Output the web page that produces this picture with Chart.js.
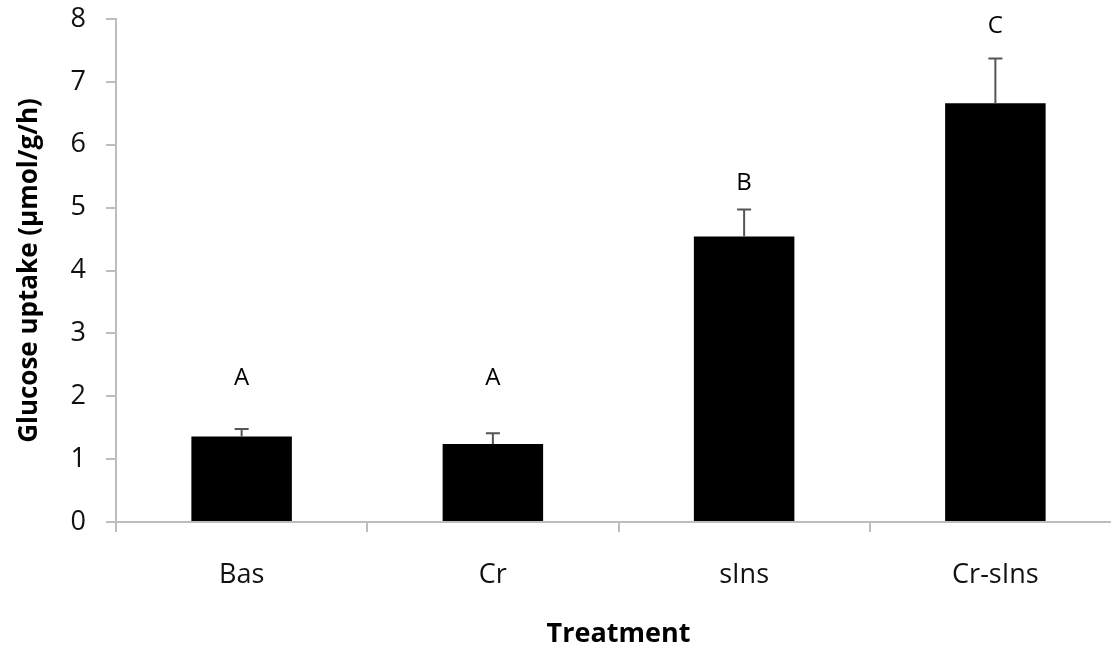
<!DOCTYPE html>
<html>
<head>
<meta charset="utf-8">
<script src="https://cdn.jsdelivr.net/npm/chart.js@4/dist/chart.umd.min.js"></script>
<style>
  html, body { margin: 0; padding: 0; background: #fff; overflow: hidden; }
  #wrap { width: 1121px; height: 656px; }
</style>
</head>
<body>
<div id="wrap"><canvas id="chart"></canvas></div>
<script>
const categories = ['Bas', 'Cr', 'sIns', 'Cr-sIns'];
const uptake = [1.36, 1.24, 4.54, 6.66];
const errorTop = [1.48, 1.41, 4.97, 7.37];
const letters = ['A', 'A', 'B', 'C'];
const letterLevel = [2.28, 2.28, 5.39, 7.88];
const yTicks = [0, 1, 2, 3, 4, 5, 6, 7, 8];

const FONT = "'Open Sans', 'DejaVu Sans', sans-serif";
const AXIS = '#bdbdbd';

// error bars (upper only) and significance letters
const annotations = {
  id: 'annotations',
  afterDatasetsDraw(chart) {
    const { ctx, scales: { x, y } } = chart;
    ctx.save();
    ctx.strokeStyle = '#555';
    ctx.lineWidth = 2;
    categories.forEach((c, i) => {
      const cx = x.getPixelForValue(i);
      const top = y.getPixelForValue(errorTop[i]);
      ctx.beginPath();
      ctx.moveTo(cx, y.getPixelForValue(uptake[i]));
      ctx.lineTo(cx, top);
      ctx.moveTo(cx - 7, top);
      ctx.lineTo(cx + 7, top);
      ctx.stroke();
    });
    ctx.fillStyle = '#000';
    ctx.font = `24px ${FONT}`;
    ctx.textAlign = 'center';
    ctx.textBaseline = 'middle';
    letters.forEach((l, i) => {
      ctx.fillText(l, x.getPixelForValue(i), y.getPixelForValue(letterLevel[i]));
    });
    ctx.restore();
  },
};

new Chart(document.getElementById('chart'), {
  type: 'bar',
  data: {
    labels: categories,
    datasets: [
      {
        data: uptake,
        backgroundColor: '#000',
        borderWidth: 0,
        barPercentage: 0.4,
        categoryPercentage: 1.0,
      },
    ],
  },
  options: {
    responsive: true,
    maintainAspectRatio: false,
    animation: false,
    layout: { padding: { top: 19, right: 0, bottom: 0, left: 0 } },
    plugins: { legend: { display: false }, tooltip: { enabled: false } },
    scales: {
      x: {
        afterFit: (s) => { s.height = 134; s.paddingLeft = 0; s.paddingRight = 0; },
        grid: { offset: true, drawOnChartArea: false, drawTicks: true, tickLength: 10, color: AXIS, lineWidth: 2 },
        border: { display: true, color: AXIS, width: 2 },
        ticks: { color: '#111', font: { family: FONT, size: 27 }, padding: 27 },
        title: {
          display: true,
          text: 'Treatment',
          color: '#000',
          font: { family: FONT, size: 27, weight: 'bold' },
          padding: { top: 0, bottom: 5 },
        },
      },
      y: {
        min: 0,
        max: 8,
        afterFit: (s) => { s.width = 116; s.paddingTop = 0; s.paddingBottom = 0; },
        afterBuildTicks: (s) => { s.ticks = yTicks.map((v) => ({ value: v })); },
        grid: { drawOnChartArea: false, drawTicks: true, tickLength: 10, color: AXIS, lineWidth: 2 },
        border: { display: true, color: AXIS, width: 2 },
        ticks: { color: '#111', font: { family: FONT, size: 27 }, padding: 20 },
        title: {
          display: true,
          text: 'Glucose uptake (µmol/g/h)',
          color: '#000',
          font: { family: FONT, size: 26, weight: 'bold' },
          padding: { top: 14, bottom: 0 },
        },
      },
    },
  },
  plugins: [annotations],
});
</script>
</body>
</html>
